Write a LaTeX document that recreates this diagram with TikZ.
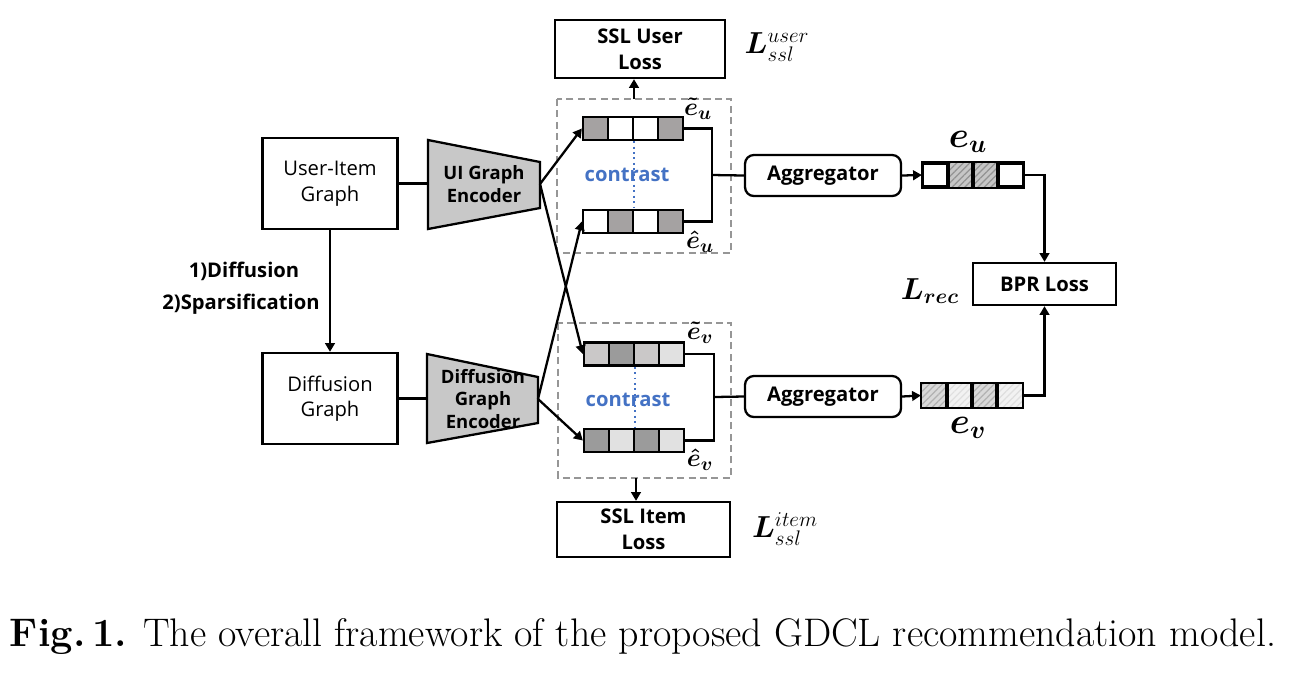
\documentclass[tikz,border=0pt]{standalone}
\usepackage[no-math]{fontspec}
\usepackage{bm}
\newfontfamily\diagfont{Open Sans}
\usetikzlibrary{calc, arrows.meta, patterns.meta}

\definecolor{EncoderFill}{RGB}{200,200,200}
\definecolor{CellDark}{RGB}{165,162,162}
\definecolor{CellMid}{RGB}{155,155,155}
\definecolor{CellLight}{RGB}{202,200,200}
\definecolor{CellPale}{RGB}{225,225,225}
\definecolor{ContrastBlue}{RGB}{68,114,196}
\definecolor{DashGray}{RGB}{150,150,150}

\tikzset{
    box/.style={draw, line width=1.3pt, inner sep=0pt, align=center,
        font=\diagfont\fontsize{11.5}{14.5}\selectfont},
    boldbox/.style={box, font=\diagfont\bfseries\fontsize{11.5}{15}\selectfont},
    cell/.style={draw, line width=1.3pt, minimum width=0.5cm,
        minimum height=0.46cm, inner sep=0pt},
    link/.style={line width=1.3pt},
    arr/.style={link, -{Triangle[length=5pt, width=5.5pt]}},
    group/.style={draw=DashGray, line width=0.8pt, dash pattern=on 4pt off 2.5pt},
    hatch/.style 2 args={postaction={fill=#1},
        postaction={pattern={Lines[angle=45, distance=2.6pt, line width=0.7pt]},
        pattern color=#2}},
}

% one embedding vector of four cells: name, left x, centre y, fills
\newcommand{\embed}[4]{%
    \foreach \c [count=\i] in {#4}
        \node[cell, fill=\c] (#1\i) at (#2+\i*25-12.5, #3) {};
}

\begin{document}
\begin{tikzpicture}[x=0.02cm, y=-0.02cm]

\useasboundingbox (0,0) rectangle (1290,674);

% input graphs
\node[box, minimum width=2.7cm, minimum height=1.82cm] (uig) at (330,183.5) {User-Item\\Graph};
\node[box, minimum width=2.7cm, minimum height=1.82cm] (dg) at (330,398.5) {Diffusion\\Graph};
\draw[arr] (uig) -- (dg);
\node[font=\diagfont\bfseries\fontsize{11.5}{14}\selectfont] (stepa) at (244,271) {1)Diffusion};
\node[font=\diagfont\bfseries\fontsize{11.5}{14}\selectfont] (stepb) at (241,304) {2)Sparsification};

% encoders
\draw[link, fill=EncoderFill] (428,140) -- (540,162) -- (540,208) -- (428,229) -- cycle;
\draw[link, fill=EncoderFill] (427,354) -- (538,377) -- (538,423) -- (427,443) -- cycle;
\coordinate (uiL) at (428,183.5);
\coordinate (uiR) at (540,184);
\coordinate (dfL) at (427,398.5);
\coordinate (dfR) at (538,399);
\node[align=center, font=\diagfont\bfseries\fontsize{10.5}{12.8}\selectfont] (uienc) at (484,184) {UI Graph\\Encoder};
\node[align=center, font=\diagfont\bfseries\fontsize{10.5}{12.8}\selectfont] (dfenc) at (483,399) {Diffusion\\Graph\\Encoder};
\draw[link] (uig.east) -- (uiL);
\draw[link] (dg.east) -- (dfL);

% contrastive views
\draw[group] (557,99) rectangle (731,253);
\draw[group] (558,323) rectangle (731,478);
\coordinate (dtop) at (634,99);
\coordinate (dbot) at (636,478);

\embed{tu}{583}{128.5}{CellDark, white, white, CellDark}
\embed{hu}{583}{221.5}{white, CellDark, white, CellDark}
\embed{tv}{584}{354}{CellLight, CellMid, CellLight, CellPale}
\embed{hv}{584}{440.5}{CellMid, CellPale, CellMid, CellPale}

\draw[ContrastBlue, line width=1.1pt, dotted] (tu2.south east) -- (hu2.north east);
\draw[ContrastBlue, line width=1.1pt, dotted] (tv2.south east) -- (hv2.north east);
\node[text=ContrastBlue, font=\diagfont\bfseries\fontsize{11.5}{14}\selectfont] (cu) at (627,175) {contrast};
\node[text=ContrastBlue, font=\diagfont\bfseries\fontsize{11.5}{14}\selectfont] (cv) at (628,400) {contrast};

\node[font=\fontsize{15}{15}\selectfont] (ltu) at (698,109) {$\bm{\tilde{e}}_{\bm{u}}$};
\node[font=\fontsize{15}{15}\selectfont] (lhu) at (700,242) {$\bm{\hat{e}}_{\bm{u}}$};
\node[font=\fontsize{15}{15}\selectfont] (ltv) at (700,333) {$\bm{\tilde{e}}_{\bm{v}}$};
\node[font=\fontsize{15}{15}\selectfont] (lhv) at (700,460) {$\bm{\hat{e}}_{\bm{v}}$};

\draw[arr] (uiR) -- (tu1.west);
\draw[arr] (uiR) -- (tv1.west);
\draw[arr] (dfR) -- (hu1.west);
\draw[arr] (dfR) -- (hv1.west);

% self-supervised losses
\node[boldbox, minimum width=3.4cm, minimum height=1.16cm] (ssluser) at (640,49) {SSL User\\Loss};
\node[boldbox, minimum width=3.46cm, minimum height=1.1cm] (sslitem) at (643.5,529.5) {SSL Item\\Loss};
\draw[arr] (dtop) -- (dtop |- ssluser.south);
\draw[arr] (dbot) -- (dbot |- sslitem.north);
\node[font=\fontsize{17}{17}\selectfont] (lssluser) at (777,47) {$\bm{L}_{ssl}^{user}$};
\node[font=\fontsize{17}{17}\selectfont] (lsslitem) at (785,529) {$\bm{L}_{ssl}^{item}$};

% aggregation
\coordinate (ju) at (712,175);
\coordinate (jv) at (714,397);
\draw[link] (tu4.east) -| (ju) |- (hu4.east);
\draw[link] (tv4.east) -| (jv) |- (hv4.east);
\node[boldbox, rounded corners=5pt, minimum width=3.12cm, minimum height=0.82cm] (aggu) at (823,175.5) {Aggregator};
\node[boldbox, rounded corners=5pt, minimum width=3.12cm, minimum height=0.82cm] (aggv) at (823,396.5) {Aggregator};
\draw[link] (ju) -- (aggu.west);
\draw[link] (jv) -- (aggv.west);

% final embeddings
\embed{eu}{923}{175}{white, white, white, white}
\embed{ev}{922}{395.5}{white, white, white, white}
\path[hatch={gray!45}{gray!85}] (eu2.south west) rectangle (eu2.north east);
\path[hatch={gray!45}{gray!85}] (eu3.south west) rectangle (eu3.north east);
\path[hatch={gray!30}{gray!60}] (ev1.south west) rectangle (ev1.north east);
\path[hatch={gray!10}{gray!25}] (ev2.south west) rectangle (ev2.north east);
\path[hatch={gray!30}{gray!60}] (ev3.south west) rectangle (ev3.north east);
\path[hatch={gray!10}{gray!25}] (ev4.south west) rectangle (ev4.north east);
\foreach \i in {1,...,4} {
    \draw[line width=1.1pt] (eu\i.south west) rectangle (eu\i.north east);
    \draw[line width=1.1pt] (ev\i.south west) rectangle (ev\i.north east);
}
\node[font=\fontsize{22}{22}\selectfont] (leu) at (968,142) {$\bm{e}_{\bm{u}}$};
\node[font=\fontsize{22}{22}\selectfont] (lev) at (968,428) {$\bm{e}_{\bm{v}}$};
\draw[arr] (aggu.east) -- (eu1.west);
\draw[arr] (aggv.east) -- (ev1.west);

% recommendation loss
\node[boldbox, minimum width=2.86cm, minimum height=0.84cm] (bpr) at (1044.5,284) {BPR Loss};
\node[font=\fontsize{18}{18}\selectfont] (lrec) at (930,291) {$\bm{L}_{\bm{rec}}$};
\draw[arr] (eu4.east) -| (bpr.north);
\draw[arr] (ev4.east) -| (bpr.south);

% caption
\node[font=\fontsize{22.7}{26}\selectfont] (caption) at (643,636)
    {\textbf{Fig.\,1.} The overall framework of the proposed GDCL recommendation model.};

\end{tikzpicture}
\end{document}
